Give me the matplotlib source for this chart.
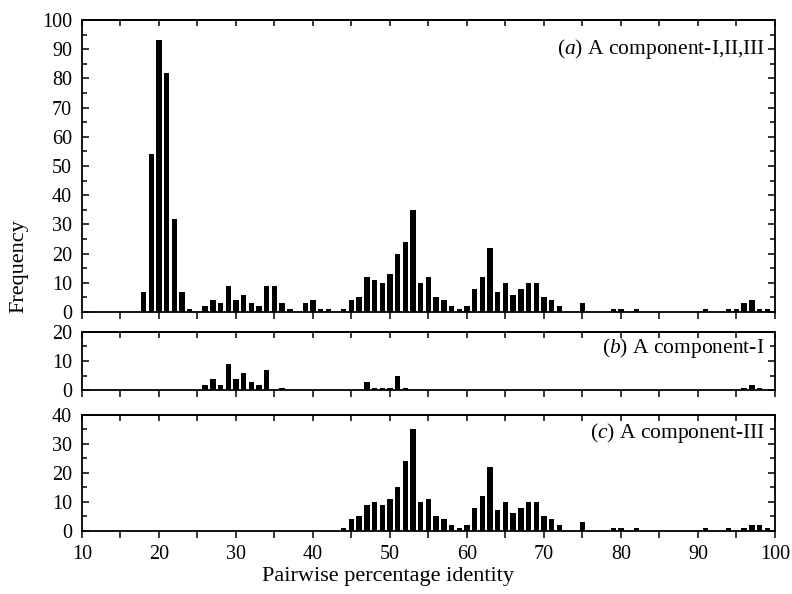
import numpy as np
import matplotlib
matplotlib.use("Agg")
import matplotlib.pyplot as plt
from matplotlib.ticker import MultipleLocator

plt.rcParams['font.family'] = ['Liberation Serif', 'DejaVu Serif']
plt.rcParams['mathtext.fontset'] = 'custom'
plt.rcParams['mathtext.rm'] = 'Liberation Serif'
plt.rcParams['mathtext.it'] = 'Liberation Serif:italic'

# (a) A component-I,II,III
ident_a = [18, 19, 20, 21, 22, 23, 24, 26, 27, 28, 29, 30, 31, 32, 33, 34, 35, 36, 37,
           39, 40, 41, 42, 44, 45, 46, 47, 48, 49, 50, 51, 52, 53, 54, 55, 56, 57, 58,
           59, 60, 61, 62, 63, 64, 65, 66, 67, 68, 69, 70, 71, 72, 75, 79, 80, 82, 91,
           94, 95, 96, 97, 98, 99]
freq_a = [7, 54, 93, 82, 32, 7, 1, 2, 4, 3, 9, 4, 6, 3, 2, 9, 9, 3, 1,
          3, 4, 1, 1, 1, 4, 5, 12, 11, 10, 13, 20, 24, 35, 10, 12, 5, 4, 2,
          1, 2, 8, 12, 22, 7, 10, 6, 8, 10, 10, 5, 4, 2, 3, 1, 1, 1, 1,
          1, 1, 3, 4, 1, 1]

# (b) A component-I
ident_b = [26, 27, 28, 29, 30, 31, 32, 33, 34, 36, 47, 48, 49, 50, 51, 52, 96, 97, 98]
freq_b = [2, 4, 2, 9, 4, 6, 3, 2, 7, 1, 3, 1, 1, 1, 5, 1, 1, 2, 1]

# (c) A component-III
ident_c = [44, 45, 46, 47, 48, 49, 50, 51, 52, 53, 54, 55, 56, 57, 58, 59, 60, 61, 62,
           63, 64, 65, 66, 67, 68, 69, 70, 71, 72, 75, 79, 80, 82, 91, 94, 96, 97, 98, 99]
freq_c = [1, 4, 5, 9, 10, 9, 11, 15, 24, 35, 10, 11, 5, 4, 2, 1, 2, 8, 12,
          22, 7, 10, 6, 8, 10, 10, 5, 4, 2, 3, 1, 1, 1, 1, 1, 1, 2, 2, 1]

panels = [
    (ident_a, freq_a, 100, [0.1035, 0.4747, 0.875, 0.4916], "($a$) A component-I,II,III"),
    (ident_b, freq_b, 20, [0.1035, 0.3426, 0.875, 0.0990], "($b$) A component-I"),
    (ident_c, freq_c, 40, [0.1035, 0.1066, 0.875, 0.1948], "($c$) A component-III"),
]
label_y = [0.9, 0.72, 0.84]

fig = plt.figure(figsize=(7.92, 5.94), dpi=100)

for i, (ident, freq, ymax, rect, label) in enumerate(panels):
    ax = fig.add_axes(rect)
    ax.bar(ident, freq, width=0.7, color='black', linewidth=0)
    ax.set_xlim(10, 100)
    ax.set_ylim(0, ymax)
    for s in ax.spines.values():
        s.set_linewidth(1.3)
    ax.xaxis.set_major_locator(MultipleLocator(10))
    ax.xaxis.set_minor_locator(MultipleLocator(5))
    ax.yaxis.set_major_locator(MultipleLocator(10))
    ax.yaxis.set_minor_locator(MultipleLocator(5))
    ax.tick_params(axis='x', which='both', direction='out', length=5, width=1.1,
                   labelsize=14.5, pad=5, labelbottom=(i == 2))
    ax.tick_params(axis='y', which='both', direction='in', left=True, right=True,
                   width=1.1, labelsize=14.5, pad=7)
    ax.tick_params(axis='y', which='major', length=5)
    ax.tick_params(axis='y', which='minor', length=3.5)
    # top ticks point down into the panel
    top = ax.secondary_xaxis('top')
    top.xaxis.set_major_locator(MultipleLocator(10))
    top.xaxis.set_minor_locator(MultipleLocator(5))
    top.tick_params(axis='x', which='both', direction='in', length=4, width=1.1,
                    labeltop=False)
    top.spines['top'].set_linewidth(1.3)
    ax.text(0.985, label_y[i], label, transform=ax.transAxes,
            ha='right', va='center', fontsize=15.5)

fig.text(0.49, 0.030, "Pairwise percentage identity", ha='center', va='center', fontsize=16)
fig.text(0.024, 0.552, "Frequency", ha='center', va='center', rotation=90, fontsize=16)

fig.savefig("out.png", dpi=100)
